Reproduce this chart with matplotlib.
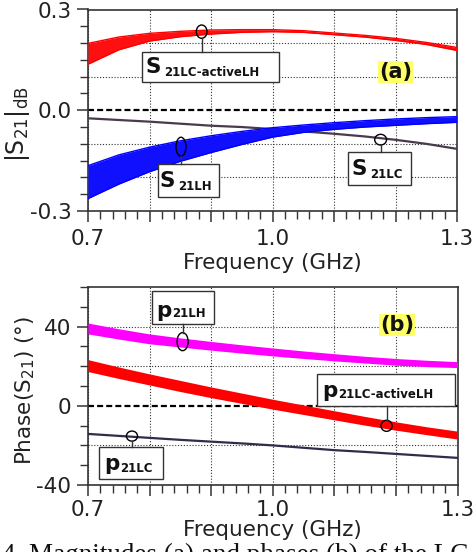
import matplotlib
matplotlib.use("Agg")
import matplotlib.pyplot as plt
from matplotlib.patches import Rectangle, Ellipse
from matplotlib.lines import Line2D
from matplotlib.ticker import MultipleLocator, FixedLocator, FuncFormatter

plt.rcParams['font.family'] = ['DejaVu Sans']
plt.rcParams['axes.unicode_minus'] = False

# ---------------- data ----------------
freq = [0.70, 0.75, 0.80, 0.85, 0.90, 0.95, 1.00, 1.05, 1.10, 1.15, 1.20, 1.25, 1.30]

# (a) magnitude |S21| (dB)
s21_active_hi = [0.199, 0.218, 0.229, 0.235, 0.239, 0.240, 0.240, 0.237, 0.230, 0.223, 0.214, 0.202, 0.187]
s21_active_lo = [0.137, 0.180, 0.206, 0.219, 0.227, 0.232, 0.234, 0.232, 0.225, 0.218, 0.208, 0.196, 0.178]
s21_lh_hi = [-0.165, -0.133, -0.110, -0.091, -0.076, -0.063, -0.052, -0.044, -0.037, -0.031, -0.026, -0.022, -0.019]
s21_lh_lo = [-0.263, -0.220, -0.183, -0.152, -0.126, -0.102, -0.080, -0.066, -0.057, -0.050, -0.045, -0.040, -0.036]
s21_lc = [-0.024, -0.029, -0.034, -0.040, -0.046, -0.050, -0.056, -0.063, -0.070, -0.078, -0.088, -0.100, -0.115]

# (b) phase (deg)
p21_lh_hi = [41.8, 38.9, 36.3, 34.3, 32.5, 30.8, 29.2, 27.7, 26.3, 25.0, 23.9, 23.0, 22.3]
p21_lh_lo = [36.3, 33.7, 31.3, 29.7, 28.1, 26.6, 25.2, 23.9, 22.7, 21.6, 20.5, 19.8, 19.3]
p21_active_hi = [23.3, 19.6, 16.1, 12.8, 9.5, 6.4, 3.3, 0.4, -2.5, -5.4, -8.1, -10.6, -12.8]
p21_active_lo = [17.3, 13.8, 10.5, 7.2, 4.1, 1.2, -1.7, -4.4, -7.1, -9.8, -12.3, -14.6, -16.8]
p21_lc = [-14.2, -15.2, -16.2, -17.2, -18.1, -19.0, -20.0, -21.2, -22.4, -23.3, -24.3, -25.3, -26.3]

x_labels = {0.7: "0.7", 1.0: "1.0", 1.3: "1.3"}
ya_labels = {0.3: "0.3", 0.0: "0.0", -0.3: "-0.3"}
yb_labels = {40: "40", 0: "0", -40: "-40"}
grid_ya = [-0.2, -0.1, 0.1, 0.2]
grid_yb = [-20, 20, 40]

# ---------------- figure ----------------
fig = plt.figure(figsize=(4.76, 5.52), dpi=100)
W, H = 476, 552
axa = fig.add_axes([88 / W, 1 - 211 / H, 369 / W, 201.5 / H])
axb = fig.add_axes([88 / W, 1 - 485 / H, 369.5 / W, 198 / H])

TXT = '#222222'
SP = '#333333'
grid_kw = dict(color='#333333', lw=0.8, ls=(0, (1, 1.6)), zorder=1)


def style(ax, ylim, ymajor, yminor, ylabels, gridy, xpad, xlabelpad):
    ax.set_xlim(0.7, 1.3)
    ax.set_ylim(*ylim)
    ax.xaxis.set_major_locator(MultipleLocator(0.1))
    ax.xaxis.set_minor_locator(MultipleLocator(0.02))
    ax.xaxis.set_major_formatter(FuncFormatter(
        lambda v, p: next((s for k, s in x_labels.items() if abs(v - k) < 1e-6), "")))
    ax.yaxis.set_major_locator(FixedLocator(ymajor))
    ax.yaxis.set_minor_locator(MultipleLocator(yminor))
    ax.yaxis.set_major_formatter(FuncFormatter(
        lambda v, p: next((s for k, s in ylabels.items() if abs(v - k) < 1e-6), "")))
    ax.tick_params(which='major', direction='out', length=8, width=1.1, color=SP,
                   labelsize=15.5, labelcolor=TXT, pad=4)
    ax.tick_params(which='minor', direction='out', length=5.5, width=1.0, color=SP)
    ax.tick_params(axis='x', which='major', pad=xpad)
    for s in ax.spines.values():
        s.set_linewidth(1.2)
        s.set_color(SP)
    ax.grid(axis='x', which='major', **grid_kw)
    for gy in gridy:
        ax.axhline(gy, **grid_kw)
    ax.axhline(0, color='black', lw=1.6, ls=(0, (2.7, 1.4)), zorder=2)
    ax.set_xlabel('Frequency (GHz)', fontsize=15.5, color=TXT, labelpad=xlabelpad)


style(axa, (-0.3, 0.3), [-0.3, 0.0, 0.3], 0.05, ya_labels, grid_ya, 5, 3)
style(axb, (-40, 60), [-40, 0, 40], 10, yb_labels, grid_yb, 2.5, 0)

# ---- panel (a) curves ----
axa.plot(freq, s21_lc, color='#4a3a4e', lw=1.6, zorder=3)
axa.fill_between(freq, s21_active_lo, s21_active_hi, color='#ff1010', lw=0, zorder=4)
axa.plot(freq, s21_active_hi, color='#ff0000', lw=1.0, zorder=4)
axa.plot(freq, s21_active_lo, color='#ff0000', lw=1.0, zorder=4)
axa.fill_between(freq, s21_lh_lo, s21_lh_hi, color='#1010ff', lw=0, zorder=4)
axa.plot(freq, s21_lh_hi, color='#0000ff', lw=1.0, zorder=4)
axa.plot(freq, s21_lh_lo, color='#0000ff', lw=1.0, zorder=4)

# ---- panel (b) curves ----
axb.plot(freq, p21_lc, color='#2e2e4a', lw=1.6, zorder=3)
axb.fill_between(freq, p21_lh_lo, p21_lh_hi, color='#ff00ff', lw=0, zorder=4)
axb.fill_between(freq, p21_active_lo, p21_active_hi, color='#ff0000', lw=0, zorder=4)

# ---- axis labels ----
axa.set_ylabel(r'$\mathregular{|S_{21}|_{dB}}$', fontsize=17, color=TXT)
axa.yaxis.set_label_coords(-0.152, 0.43)
axb.set_ylabel(r'Phase(S$\mathregular{_{21}}$) (°)', fontsize=15.5, color=TXT)
axb.yaxis.set_label_coords(-0.138, 0.475)


def callout(ax, box, main, sub, main_xy, sub_xy, ell, ell_wh, lead):
    x0, y0, x1, y1 = box
    ax.add_patch(Rectangle((x0, y0), x1 - x0, y1 - y0, transform=ax.transAxes,
                           fc='white', ec='#333333', lw=1.0, zorder=8, clip_on=False))
    ax.text(main_xy[0], main_xy[1], main, transform=ax.transAxes, fontsize=15.5,
            fontweight='bold', color='#111111', va='baseline', ha='left', zorder=9)
    ax.text(sub_xy[0], sub_xy[1], sub, transform=ax.transAxes, fontsize=8.5,
            fontweight='bold', color='#111111', va='baseline', ha='left', zorder=9)
    ax.add_patch(Ellipse(ell, ell_wh[0], ell_wh[1], transform=ax.transAxes,
                         fc='none', ec='black', lw=1.0, zorder=9))
    ax.add_line(Line2D([ell[0], ell[0]], lead, transform=ax.transAxes,
                       color='#333333', lw=1.0, zorder=9))


callout(axa, (0.146, 0.638, 0.518, 0.790), 'S', '21LC-activeLH',
        (0.155, 0.683), (0.206, 0.671), (0.308, 0.890), (0.029, 0.066), (0.857, 0.790))
callout(axa, (0.189, 0.071, 0.355, 0.232), 'S', '21LH',
        (0.195, 0.121), (0.243, 0.104), (0.252, 0.319), (0.027, 0.094), (0.272, 0.232))
callout(axa, (0.705, 0.129, 0.875, 0.291), 'S', '21LC',
        (0.715, 0.179), (0.764, 0.162), (0.793, 0.354), (0.032, 0.053), (0.328, 0.291))

callout(axb, (0.172, 0.813, 0.342, 0.980), 'p', '21LH',
        (0.185, 0.850), (0.228, 0.847), (0.256, 0.724), (0.030, 0.091), (0.7695, 0.813))
callout(axb, (0.031, 0.030, 0.202, 0.190), 'p', '21LC',
        (0.043, 0.076), (0.087, 0.067), (0.119, 0.247), (0.030, 0.051), (0.2215, 0.190))
callout(axb, (0.621, 0.400, 0.992, 0.561), 'p', '21LC-activeLH',
        (0.635, 0.446), (0.677, 0.438), (0.808, 0.299), (0.030, 0.056), (0.327, 0.400))

# panel tags
for ax, tag, pos in [(axa, '(a)', (0.834, 0.691)), (axb, '(b)', (0.836, 0.808))]:
    ax.text(pos[0], pos[1], tag, transform=ax.transAxes, fontsize=15, fontweight='bold',
            color='#111111', ha='center', va='center', zorder=9,
            bbox=dict(boxstyle='square,pad=0.05', fc='#ffff66', ec='none'))

# caption fragment cut at bottom edge
fig.text(2 / W, -10 / H, '4. Magnitudes (a) and phases (b) of the LC',
         family=['Liberation Serif', 'DejaVu Serif'], fontsize=19.5, color='#111111',
         ha='left', va='baseline')

fig.savefig('out.png', dpi=100, facecolor='white')
